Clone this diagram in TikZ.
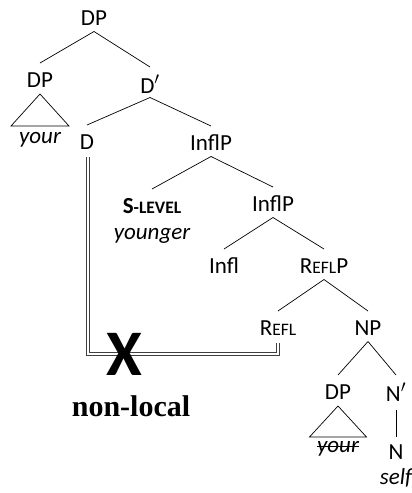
\documentclass[tikz,border=0pt]{standalone}
\usepackage{fontspec}
\setmainfont{Carlito}
\newfontfamily\serifbold{Liberation Serif}
\usetikzlibrary{calc}
\newcommand{\fsc}[1]{{\fontsize{17.5}{18}\selectfont #1}}
\tikzset{
  cat/.style={inner sep=0pt, font=\fontsize{23}{25}\selectfont},
  word/.style={inner sep=0pt, anchor=base, font=\fontsize{23}{25}\selectfont\itshape},
  br/.style={line width=0.7pt, black},
  dbl/.style={draw=black!75, line width=0.7pt, double=white, double distance=1.7pt}
}
\newcommand{\edge}[2]{\draw[br] ($(#1.center)+(0,13.5)$) -- ($(#2.center)+(0,-17)$);}
\begin{document}
\begin{tikzpicture}[x=1pt,y=-1pt]
\useasboundingbox (0,0) rectangle (412,493);
% nodes
\node[cat] (root) at (94,18) {DP};
\node[cat] (dpl) at (40,80) {DP};
\node[cat] (dbar) at (150,84) {D$'$};
\node[word] (your1) at (40,143) {your};
\node[cat] (d) at (87,142) {D};
\node[cat] (inflp1) at (211,143) {InflP};
\node[cat, font=\fontsize{23}{25}\selectfont\bfseries] (slevel) at (152,206) {S\fsc{-LEVEL}};
\node[word] (younger) at (152,239) {younger};
\node[cat] (inflp2) at (273,204) {InflP};
\node[cat] (infl) at (224,266) {Infl};
\node[cat] (reflp) at (324,266) {R\fsc{EFL}P};
\node[cat] (refl) at (278,328) {R\fsc{EFL}};
\node[cat] (np) at (368,328) {NP};
\node[cat] (dp2) at (338,392) {DP};
\node[cat] (nbar) at (396,392) {N$'$};
\node[word] (your2) at (338,452) {your};
\draw[line width=0.7pt] ($(your2.base west)+(0,-5.5)$) -- ($(your2.base east)+(0,-5.5)$);
\node[cat] (n) at (396,452) {N};
\node[word] (self) at (396,484) {self};
% branches
\edge{root}{dpl}
\edge{root}{dbar}
\edge{dbar}{d}
\edge{dbar}{inflp1}
\edge{inflp1}{slevel}
\edge{inflp1}{inflp2}
\edge{inflp2}{infl}
\edge{inflp2}{reflp}
\edge{reflp}{refl}
\edge{reflp}{np}
\edge{np}{dp2}
\edge{np}{nbar}
\draw[br] ($(nbar.center)+(0,18)$) -- ($(n.center)+(0,-15)$);
% triangles
\draw[br] ($(dpl.center)+(0,14)$) -- ($(dpl.center)+(-29,46)$) -- ($(dpl.center)+(29,46)$) -- cycle;
\draw[br] ($(dp2.center)+(0,14)$) -- ($(dp2.center)+(-28.5,45)$) -- ($(dp2.center)+(28.5,45)$) -- cycle;
% non-local path
\coordinate (c1) at ($(d.center)+(1,212)$);
\draw[dbl] ($(d.center)+(1,15)$) -- (c1) -- (c1 -| refl.center) -- ($(refl.center)+(0,15)$);
\node[inner sep=0pt, font=\fontsize{65}{66}\selectfont\bfseries] (x) at (124,354) {X};
\node[inner sep=0pt, anchor=base, font=\serifbold\bfseries\fontsize{30}{32}\selectfont] (nonlocal) at (131,416) {non-local};
\end{tikzpicture}
\end{document}
